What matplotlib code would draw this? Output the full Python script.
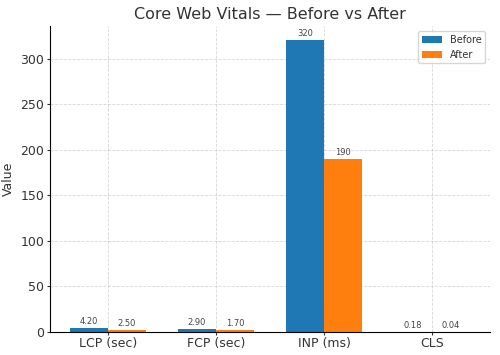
"""Core Web Vitals before/after grouped bar chart."""

import matplotlib

matplotlib.use("Agg")
import matplotlib.pyplot as plt
import numpy as np

METRICS = ["LCP (sec)", "FCP (sec)", "INP (ms)", "CLS"]
BEFORE = [4.20, 2.90, 320, 0.18]
AFTER = [2.50, 1.70, 190, 0.04]

WIDTH = 0.35


def _fmt(value: float) -> str:
    return f"{value:.0f}" if value >= 100 else f"{value:.2f}"


def main():
    plt.rcParams["text.color"] = "#333333"
    plt.rcParams["axes.labelcolor"] = "#333333"
    plt.rcParams["xtick.color"] = "#333333"
    plt.rcParams["ytick.color"] = "#333333"

    fig, ax = plt.subplots(figsize=(5.0, 3.55), dpi=100)
    x = np.arange(len(METRICS))
    bars_before = ax.bar(x - WIDTH / 2, BEFORE, WIDTH, label="Before", color="#1f77b4")
    bars_after = ax.bar(x + WIDTH / 2, AFTER, WIDTH, label="After", color="#ff7f0e")

    for bars in (bars_before, bars_after):
        for bar in bars:
            h = bar.get_height()
            ax.annotate(
                _fmt(h),
                xy=(bar.get_x() + bar.get_width() / 2, h),
                xytext=(0, 1.5),
                textcoords="offset points",
                ha="center",
                va="bottom",
                fontsize=6,
                color="#444444",
            )

    ax.set_xticks(x)
    ax.set_xticklabels(METRICS, fontsize=9)
    ax.tick_params(axis="both", labelsize=9, length=2, pad=2)
    ax.set_ylabel("Value", fontsize=9, labelpad=4)
    ax.set_title("Core Web Vitals — Before vs After", fontsize=11.5, pad=5)
    ax.grid(True, linestyle="--", linewidth=0.6, alpha=0.5)
    ax.set_axisbelow(True)
    ax.spines["top"].set_visible(False)
    ax.spines["right"].set_visible(False)
    ax.legend(loc="upper right", fontsize=7)

    fig.subplots_adjust(left=0.10, right=0.98, top=0.927, bottom=0.065)
    fig.savefig("out.png", dpi=100)
    plt.close(fig)


if __name__ == "__main__":
    main()
